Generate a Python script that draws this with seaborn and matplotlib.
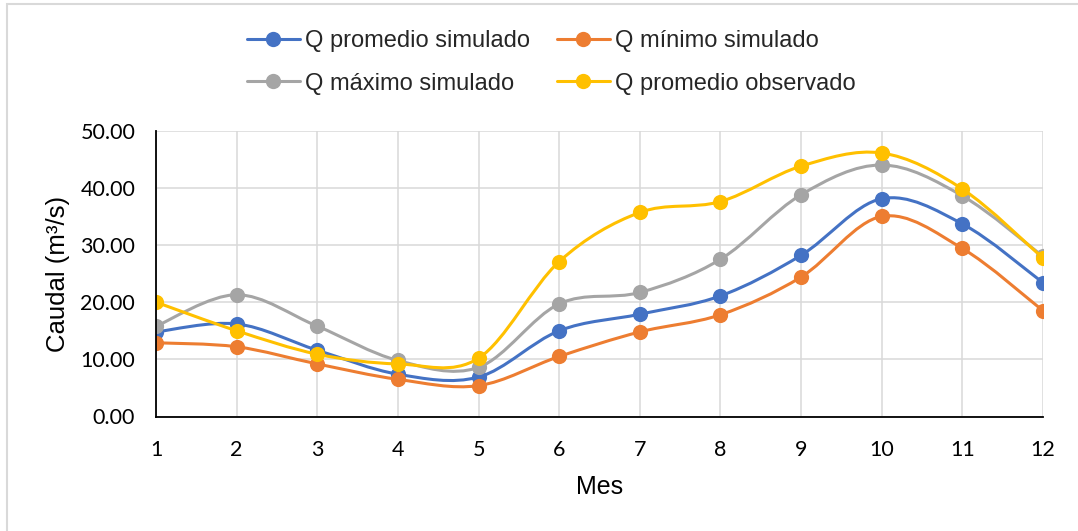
import numpy as np
import pandas as pd
import seaborn as sns
import matplotlib
matplotlib.use("Agg")
import matplotlib.pyplot as plt
from matplotlib.path import Path
from matplotlib.patches import PathPatch, Rectangle
from matplotlib.lines import Line2D

# Monthly discharge data (m3/s)
meses = [1, 2, 3, 4, 5, 6, 7, 8, 9, 10, 11, 12]
q_promedio_sim = [14.8, 16.2, 11.6, 7.4, 6.9, 15.0, 17.9, 21.1, 28.2, 38.1, 33.7, 23.4]
q_minimo_sim = [12.9, 12.2, 9.2, 6.5, 5.4, 10.5, 14.8, 17.8, 24.4, 35.0, 29.4, 18.5]
q_maximo_sim = [15.8, 21.3, 15.8, 9.8, 8.6, 19.7, 21.7, 27.5, 38.8, 44.0, 38.6, 28.0]
q_promedio_obs = [20.0, 15.0, 10.9, 9.2, 10.2, 27.1, 35.7, 37.6, 43.8, 46.1, 39.8, 27.7]

series_names = ["Q promedio simulado", "Q mínimo simulado",
                "Q máximo simulado", "Q promedio observado"]
series_values = [q_promedio_sim, q_minimo_sim, q_maximo_sim, q_promedio_obs]
colores = ["#4472C4", "#ED7D31", "#A5A5A5", "#FFC000"]

df = pd.DataFrame({
    "Mes": np.tile(meses, len(series_names)),
    "Caudal": np.concatenate(series_values),
    "Serie": np.repeat(series_names, len(meses)),
})

sns.set_theme(style="white")
plt.rcParams["font.family"] = ["Liberation Sans", "DejaVu Sans"]

fig = plt.figure(figsize=(10.78, 5.31), dpi=100)
W, H = 1078, 531
ax = fig.add_axes([156 / W, 1 - 416.5 / H, (1043 - 156) / W, (416.5 - 130.7) / H])


def smooth_path(xs, ys):
    """Cubic Bezier through the points (Catmull-Rom style control points)."""
    pts = np.column_stack([xs, ys]).astype(float)
    n = len(pts)
    verts = [tuple(pts[0])]
    codes = [Path.MOVETO]
    for i in range(n - 1):
        p0 = pts[max(i - 1, 0)]
        p1 = pts[i]
        p2 = pts[i + 1]
        p3 = pts[min(i + 2, n - 1)]
        c1 = p1 + (p2 - p0) / 6.0
        c2 = p2 - (p3 - p1) / 6.0
        verts += [tuple(c1), tuple(c2), tuple(p2)]
        codes += [Path.CURVE4] * 3
    return Path(verts, codes)


for i, (name, color) in enumerate(zip(series_names, colores)):
    sub = df[df["Serie"] == name]
    patch = PathPatch(smooth_path(sub["Mes"].values, sub["Caudal"].values),
                      fill=False, edgecolor=color, linewidth=2.2,
                      capstyle="round", joinstyle="round", zorder=3 + 2 * i)
    ax.add_patch(patch)
    sns.scatterplot(data=sub, x="Mes", y="Caudal", color=color, s=120,
                    edgecolor=color, linewidth=0, ax=ax, zorder=4 + 2 * i,
                    legend=False)

ax.set_xlim(1, 12)
ax.set_ylim(0, 50)
ax.set_xticks(meses)
ax.set_xticklabels([str(m) for m in meses])
ax.set_yticks(np.arange(0, 51, 10))
ax.set_yticklabels([f"{v:.2f}" for v in np.arange(0, 51, 10)])
ax.grid(True, color="#D9D9D9", linewidth=1.1)
ax.set_axisbelow(True)
for s in ["top", "right"]:
    ax.spines[s].set_visible(False)
for s in ["left", "bottom"]:
    ax.spines[s].set_color("black")
    ax.spines[s].set_linewidth(1.3)
    ax.spines[s].set_zorder(20)
ax.tick_params(axis="both", length=0, labelsize=15.5, colors="black")
ax.tick_params(axis="y", pad=15)
ax.tick_params(axis="x", pad=17)
for lab in ax.get_xticklabels() + ax.get_yticklabels():
    lab.set_fontfamily(["Lato", "DejaVu Sans"])

ax.set_xlabel("Mes", fontsize=18, color="black")
ax.set_ylabel("Caudal (m³/s)", fontsize=18.5, color="black")
ax.xaxis.set_label_coords(0.5, (416.5 - 475) / (416.5 - 130.7))
ax.yaxis.set_label_coords((70 - 156) / (1043 - 156), 0.5)

# legend: two columns, two rows
handles = [Line2D([0], [0], color=c, lw=2.2, marker="o", markersize=11,
                  markeredgewidth=0) for c in colores]
order = [0, 2, 1, 3]
fig.legend([handles[k] for k in order], [series_names[k] for k in order],
           ncol=2, loc="center", bbox_to_anchor=(551 / W, 1 - 62.5 / H),
           frameon=False, fontsize=17, handlelength=2.25, handletextpad=0.2,
           columnspacing=1.15, labelspacing=0.85, borderpad=0)

# chart frame
fig.add_artist(Rectangle((7 / W, -0.05), 1.2, 1 - 4 / H + 0.05,
                         transform=fig.transFigure, fill=False,
                         edgecolor="#D9D9D9", linewidth=1.5))

fig.savefig("out.png", dpi=100, facecolor="white")
